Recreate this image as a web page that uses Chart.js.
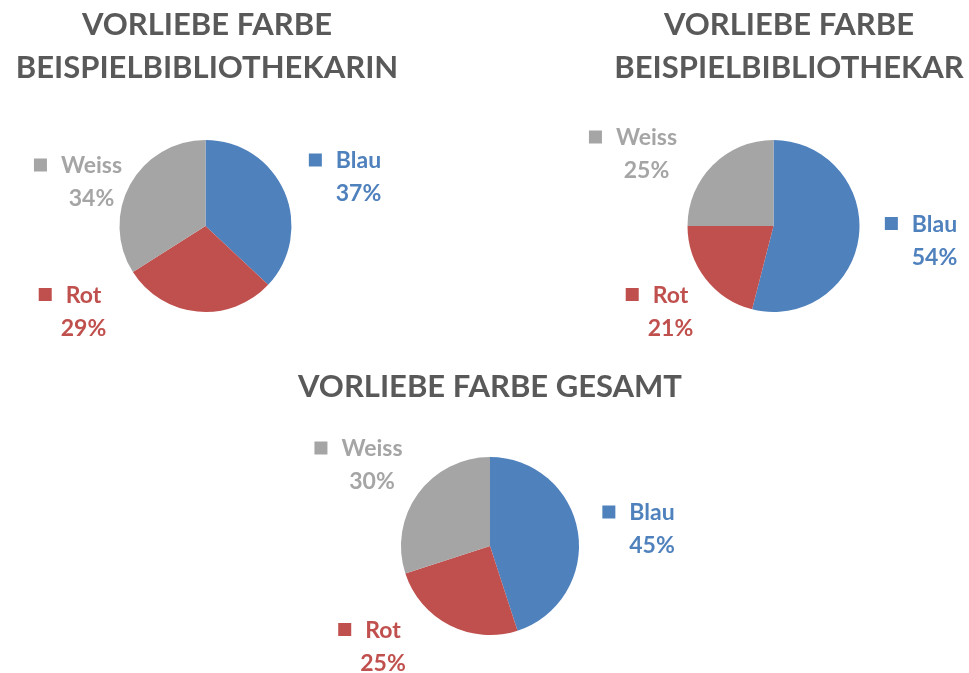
<!DOCTYPE html>
<html>
<head>
<meta charset="utf-8">
<script src="https://cdn.jsdelivr.net/npm/chart.js@4.4.0/dist/chart.umd.min.js"></script>
<style>
  html, body { margin: 0; background: #ffffff; }
  #wrap { position: relative; width: 969px; height: 673px; overflow: hidden; }
  #wrap canvas { position: absolute; left: 0; top: 0; }
</style>
</head>
<body>
<div id="wrap">
  <canvas id="chart-bibliothekarin" width="969" height="673"></canvas>
  <canvas id="chart-bibliothekar" width="969" height="673"></canvas>
  <canvas id="chart-gesamt" width="969" height="673"></canvas>
</div>
<script>
// Daten
const farben = ["Blau", "Rot", "Weiss"];
const farbCodes = ["#4F81BD", "#C0504D", "#A5A5A5"];
const werteBibliothekarin = [37, 29, 34];
const werteBibliothekar = [54, 21, 25];
const werteGesamt = [45, 25, 30];
const titelBibliothekarin = ["VORLIEBE FARBE", "BEISPIELBIBLIOTHEKARIN"];
const titelBibliothekar = ["VORLIEBE FARBE", "BEISPIELBIBLIOTHEKAR"];
const titelGesamt = ["VORLIEBE FARBE GESAMT"];

const W = 969, H = 673;
const schrift = "Lato, 'Open Sans', sans-serif";

// Plugin: Titel und Datenbeschriftungen (Legendensymbol + Name + Prozent)
const beschriftungPlugin = {
    id: "beschriftung",
    afterDraw(chart, args, opts) {
        const ctx = chart.ctx;
        const meta = chart.getDatasetMeta(0);
        const werte = chart.data.datasets[0].data;
        const summe = werte.reduce((a, b) => a + b, 0);
        ctx.save();

        // Titel
        ctx.fillStyle = "#595959";
        ctx.font = "bold " + opts.titelGroesse + "px " + schrift;
        ctx.textAlign = "center";
        ctx.textBaseline = "alphabetic";
        opts.titel.forEach((zeile, i) => {
            ctx.fillText(zeile, opts.titelX, opts.titelBasis[i]);
        });

        // Datenbeschriftungen
        ctx.font = "bold 23px " + schrift;
        meta.data.forEach((arc, i) => {
            const [dx, dy] = opts.versatz[i];
            const x = arc.x + dx;
            const y = arc.y + dy;
            const name = chart.data.labels[i];
            const prozent = Math.round(werte[i] / summe * 100) + "%";
            ctx.fillStyle = farbCodes[i];
            ctx.textAlign = "center";
            ctx.fillText(name, x, y - 16.5 + 8);
            ctx.fillText(prozent, x, y + 16.5 + 8);
            const breite = ctx.measureText(name).width;
            const links = x - breite / 2;
            ctx.fillRect(links - 14 - 13, y - 16.5 - 6.5, 13, 13);
        });
        ctx.restore();
    }
};

const erstelleTorte = (id, werte, mitte, radius, titel, titelX, titelBasis, versatz) => {
    const ctx = document.getElementById(id).getContext("2d");
    return new Chart(ctx, {
        type: "pie",
        data: {
            labels: farben,
            datasets: [{
                data: werte,
                backgroundColor: farbCodes,
                borderWidth: 0,
            }],
        },
        options: {
            responsive: false,
            animation: false,
            events: [],
            layout: {
                padding: {
                    left: mitte[0] - radius,
                    right: W - mitte[0] - radius,
                    top: mitte[1] - radius,
                    bottom: H - mitte[1] - radius,
                },
            },
            plugins: {
                legend: { display: false },
                tooltip: { enabled: false },
                beschriftung: {
                    titel: titel,
                    titelX: titelX,
                    titelBasis: titelBasis,
                    titelGroesse: 31,
                    versatz: versatz,
                },
            },
        },
        plugins: [beschriftungPlugin],
    });
};

document.addEventListener("DOMContentLoaded", () => {
    erstelleTorte("chart-bibliothekarin", werteBibliothekarin, [205.5, 226], 86,
        titelBibliothekarin, 207, [35, 78],
        [[153, -49.5], [-122, 85], [-114, -44.5]]);
    erstelleTorte("chart-bibliothekar", werteBibliothekar, [773.5, 226], 86,
        titelBibliothekar, 789, [35, 78],
        [[161, 14], [-103, 85], [-127, -72.5]]);
    erstelleTorte("chart-gesamt", werteGesamt, [490, 546], 89,
        titelGesamt, 490, [397],
        [[162, -17.5], [-107, 100], [-118, -81.5]]);
});
</script>
</body>
</html>
